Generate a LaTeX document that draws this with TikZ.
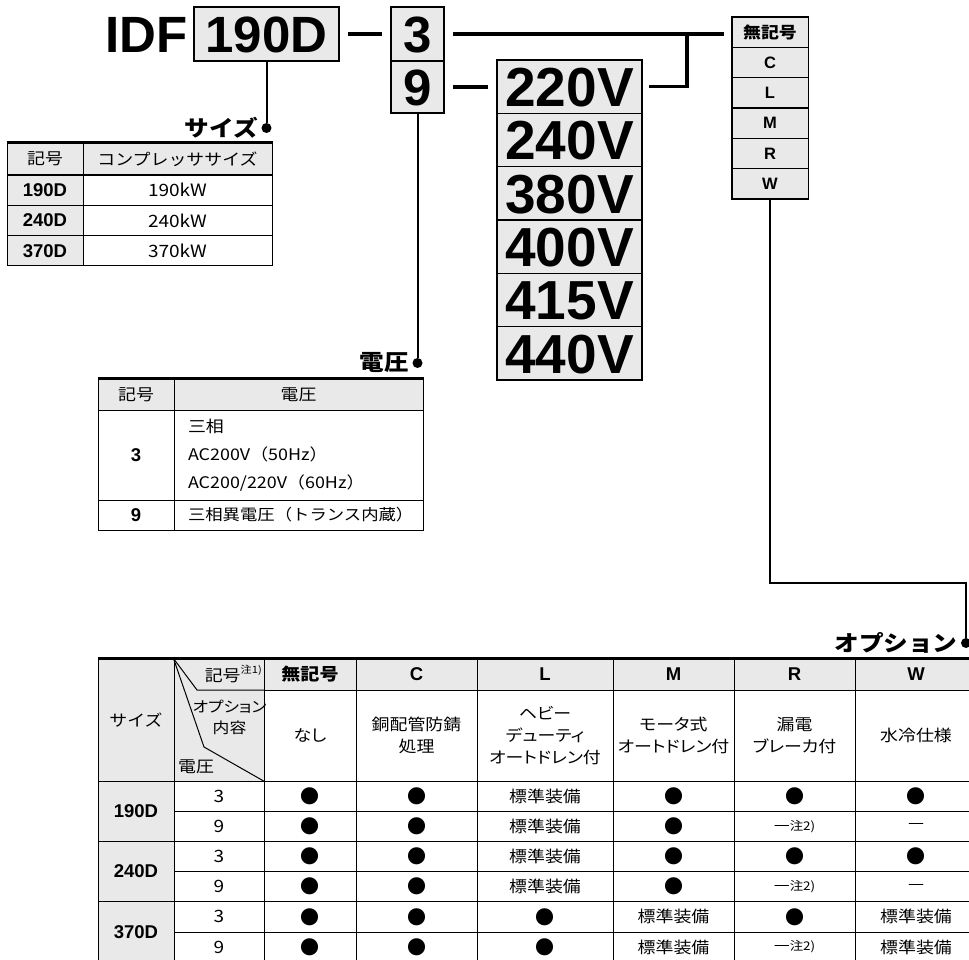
\documentclass[tikz,border=0pt]{standalone}
\usepackage{fontspec}
\usepackage{tikz}
\usetikzlibrary{positioning,calc}
\setmainfont{Noto Sans CJK JP}[FakeStretch=1.12]
\newfontfamily\jpp{Noto Sans CJK JP}[FakeStretch=1.12,RawFeature=+palt]
\newfontfamily\jplbl{Noto Sans CJK JP}[FakeStretch=1.12]
\newfontfamily\dotf{Noto Sans CJK JP}
\newfontfamily\hvb{Liberation Sans}
\definecolor{boxgray}{HTML}{E9E9E9}
\newcommand\dt{{\dotf\fontsize{19}{19}\selectfont ●}}
\newcommand\nt{—{\fontsize{12}{12}\selectfont 注2)}}

\begin{document}
\begin{tikzpicture}[x=1pt, y=-1pt,
    codebox/.style={rectangle, draw=black, line width=1.6pt, fill=boxgray, inner sep=0pt, font=\hvb\bfseries\fontsize{51}{51}\selectfont, text height=37pt, text depth=0pt},
    voltbox/.style={codebox, minimum width=145pt, minimum height=53.3pt, font=\hvb\bfseries\fontsize{55}{55}\selectfont, text height=39.5pt},
    optbox/.style={rectangle, draw=black, line width=1pt, fill=boxgray, minimum width=76pt, minimum height=30.3pt, inner sep=0pt, font=\hvb\bfseries\fontsize{16.5}{16.5}\selectfont},
    conn/.style={line width=3.2pt, shorten <=8pt, shorten >=8pt},
    lead/.style={line width=2pt},
    dot/.style={circle, fill=black, inner sep=0pt, minimum size=10pt},
    lbl/.style={font=\jplbl\bfseries\fontsize{22}{22}\selectfont, inner sep=0pt},
    cell/.style={rectangle, draw=black, line width=1pt, inner sep=0pt, align=center, font=\fontsize{16}{22}\selectfont},
    pcell/.style={cell, font=\jpp\fontsize{16}{22}\selectfont},
    hcell/.style={cell, fill=boxgray},
    bcell/.style={hcell, font=\hvb\bfseries\fontsize{18.5}{18.5}\selectfont},
    topline/.style={line width=2.2pt}
]
\useasboundingbox (0,0) rectangle (969,960);

% model code
\node[codebox, draw=none, fill=none, anchor=east] (idf) at (188,34) {IDF};
\node[codebox, minimum width=145pt, minimum height=54pt] (sz) at (266.5,34) {190D};
\node[codebox, minimum width=53pt, minimum height=54pt] (c3) at (417.5,34) {3};
\node[codebox, minimum width=53pt, minimum height=52pt] (c9) at (417.5,87) {9};

% voltages
\node[voltbox] (v1) at (569.5,86.7) {220V};
\node[voltbox] (v2) at (569.5,140) {240V};
\node[voltbox] (v3) at (569.5,193.3) {380V};
\node[voltbox] (v4) at (569.5,246.7) {400V};
\node[voltbox] (v5) at (569.5,300) {415V};
\node[voltbox] (v6) at (569.5,353.3) {440V};

% options
\node[optbox, font=\jplbl\bfseries\fontsize{16}{16}\selectfont] (o1) at (770,32.2) {無記号};
\node[optbox] (o2) at (770,62.5) {C};
\node[optbox] (o3) at (770,92.8) {L};
\node[optbox] (o4) at (770,123.2) {M};
\node[optbox] (o5) at (770,153.5) {R};
\node[optbox] (o6) at (770,183.8) {W};
\draw[line width=1.6pt] (o1.north west) rectangle (o6.south east);

% connectors
\coordinate (jn) at (687,34);
\draw[conn] (sz) -- (c3);
\draw[conn] (c3.east) -- (c3.east -| o1.west);
\draw[conn] (c9.east) -- (c9.east -| v1.west);
\draw[conn, shorten <=6pt, shorten >=0pt] (v1.east) -| (jn);

% leads and labels
\node[dot] (szdot) at (266.5,128) {};
\node[dot] (vdot) at (417.5,363) {};
\node[dot] (odot) at (966,643) {};
\draw[lead] (sz.south) -- (szdot);
\draw[lead] (c9.south) -- (vdot);
\draw[lead] (o6.south) -- ++(0,384) -| (odot);
\node[lbl, left=3pt of szdot] (szlbl) {サイズ};
\node[lbl, left=3pt of vdot] (vlbl) {電圧};
\node[lbl, left=3pt of odot] (olbl) {オプション};

% size table
\node[hcell, minimum width=76pt, minimum height=32pt] (sk) at (45,159) {記号};
\node[hcell, minimum width=189pt, minimum height=32pt] (sc) at (177.5,159) {コンプレッササイズ};
\node[bcell, minimum width=76pt, minimum height=30.3pt] (s190) at (45,190.2) {190D};
\node[bcell, minimum width=76pt, minimum height=30.3pt] (s240) at (45,220.5) {240D};
\node[bcell, minimum width=76pt, minimum height=30.3pt] (s370) at (45,250.8) {370D};
\node[cell, minimum width=189pt, minimum height=30.3pt, font=\fontsize{17}{17}\selectfont] (k190) at (177.5,190.2) {190kW};
\node[cell, minimum width=189pt, minimum height=30.3pt, font=\fontsize{17}{17}\selectfont] (k240) at (177.5,220.5) {240kW};
\node[cell, minimum width=189pt, minimum height=30.3pt, font=\fontsize{17}{17}\selectfont] (k370) at (177.5,250.8) {370kW};
\draw[topline] (sk.north west) -- (sc.north east);

% voltage table
\node[hcell, minimum width=76pt, minimum height=31pt] (vk) at (136,394.5) {記号};
\node[hcell, minimum width=249pt, minimum height=31pt] (vc) at (298.5,394.5) {電圧};
\node[bcell, fill=none, minimum width=76pt, minimum height=90pt] (v3k) at (136,455) {3};
\node[cell, text width=221pt, inner xsep=14pt, minimum height=90pt, align=left, font=\fontsize{16}{28}\selectfont] (v3c) at (298.5,455) {三相\\AC200V（50Hz）\\AC200/220V（60Hz）};
\node[bcell, fill=none, minimum width=76pt, minimum height=30pt] (v9k) at (136,515) {9};
\node[cell, text width=221pt, inner xsep=14pt, minimum height=30pt, align=left, font=\fontsize{15.5}{20}\selectfont] (v9c) at (298.5,515) {三相異電圧（トランス内蔵）};
\draw[topline] (vk.north west) -- (vc.north east);

% option table header
\node[hcell, minimum width=76pt, minimum height=122pt] (osz) at (136,720) {サイズ};
\node[hcell, minimum width=90pt, minimum height=122pt] (odg) at (219,720) {};
\draw[line width=1pt] (odg.north west) -- (197,690) -- (odg.east |- 0,690);
\draw[line width=1pt] (odg.north west) -- (204,747) -- (odg.south east);
\node[inner sep=0pt, anchor=east, font=\fontsize{16}{16}\selectfont] (odk) at (262,674) {記号\raisebox{0.45em}{\fontsize{10}{10}\selectfont 注1)}};
\node[inner sep=0pt, align=center, font=\jpp\fontsize{15}{21}\selectfont] (odo) at (229.5,717) {オプション\\内容};
\node[inner sep=0pt, anchor=west, font=\fontsize{16}{16}\selectfont] (odv) at (178,767) {電圧};

\node[hcell, minimum width=92pt, minimum height=31pt, font=\jplbl\bfseries\fontsize{17}{17}\selectfont] (hn) at (310,674.5) {無記号};
\node[bcell, minimum width=121pt, minimum height=31pt] (hc) at (416.5,674.5) {C};
\node[bcell, minimum width=136pt, minimum height=31pt] (hl) at (545,674.5) {L};
\node[bcell, minimum width=121pt, minimum height=31pt] (hm) at (673.5,674.5) {M};
\node[bcell, minimum width=121pt, minimum height=31pt] (hr) at (794.5,674.5) {R};
\node[bcell, minimum width=122pt, minimum height=31pt] (hw) at (916,674.5) {W};

\node[pcell, minimum width=92pt, minimum height=91pt] (tn) at (310,735.5) {なし};
\node[pcell, minimum width=121pt, minimum height=91pt] (tc) at (416.5,735.5) {銅配管防錆\\処理};
\node[pcell, minimum width=136pt, minimum height=91pt] (tl) at (545,735.5) {ヘビー\\デューティ\\オートドレン付};
\node[pcell, minimum width=121pt, minimum height=91pt] (tm) at (673.5,735.5) {モータ式\\オートドレン付};
\node[pcell, minimum width=121pt, minimum height=91pt] (tr) at (794.5,735.5) {漏電\\ブレーカ付};
\node[pcell, minimum width=122pt, minimum height=91pt] (tw) at (916,735.5) {水冷仕様};
\draw[topline] (osz.north west) -- (hw.north east);

% option table body
\node[bcell, minimum width=76pt, minimum height=60.4pt] (r190) at (136,811.2) {190D};
\node[bcell, minimum width=76pt, minimum height=60.4pt] (r240) at (136,871.6) {240D};
\node[bcell, minimum width=76pt, minimum height=60.4pt] (r370) at (136,932) {370D};
\foreach \rw/\yy/\vv/\ka/\kb/\kc/\kd/\ke/\kf in {
    1/796.1/3/\dt/\dt/標準装備/\dt/\dt/\dt,
    2/826.3/9/\dt/\dt/標準装備/\dt/\nt/—,
    3/856.5/3/\dt/\dt/標準装備/\dt/\dt/\dt,
    4/886.7/9/\dt/\dt/標準装備/\dt/\nt/—,
    5/916.9/3/\dt/\dt/\dt/標準装備/\dt/標準装備,
    6/947.1/9/\dt/\dt/\dt/標準装備/\nt/標準装備}{
  \node[cell, minimum width=90pt, minimum height=30.2pt, font=\fontsize{17}{17}\selectfont] (dv\rw) at (219,\yy) {\vv};
  \node[cell, minimum width=92pt, minimum height=30.2pt] (dn\rw) at (310,\yy) {\ka};
  \node[cell, minimum width=121pt, minimum height=30.2pt] (dc\rw) at (416.5,\yy) {\kb};
  \node[cell, minimum width=136pt, minimum height=30.2pt] (dl\rw) at (545,\yy) {\kc};
  \node[cell, minimum width=121pt, minimum height=30.2pt] (dm\rw) at (673.5,\yy) {\kd};
  \node[cell, minimum width=121pt, minimum height=30.2pt] (dr\rw) at (794.5,\yy) {\ke};
  \node[cell, minimum width=122pt, minimum height=30.2pt] (dw\rw) at (916,\yy) {\kf};
}
\end{tikzpicture}
\end{document}
